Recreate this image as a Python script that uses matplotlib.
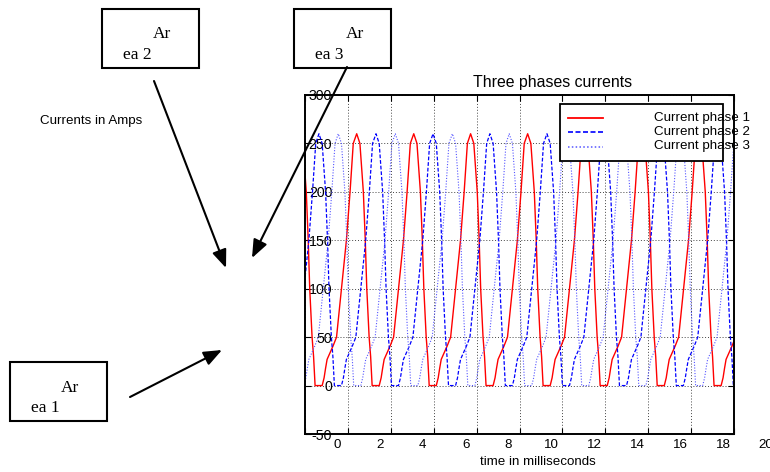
import matplotlib
matplotlib.use('Agg')
import matplotlib.pyplot as plt
import matplotlib.transforms as mtransforms
from matplotlib.patches import Rectangle, FancyArrowPatch

plt.rcParams['font.family'] = ['Liberation Sans', 'DejaVu Sans']
plt.rcParams['axes.unicode_minus'] = False

cycle_dt = [0.0, 0.15, 0.31, 0.40, 0.47, 0.58, 0.65, 0.72, 1.05, 1.14, 1.21,
            1.28, 1.42, 1.56, 1.72, 1.95, 2.18, 2.35, 2.50]
cycle_amp = [260, 250, 200, 150, 100, 50, 30, 0, 0, 8, 18,
             27, 34, 41, 50, 100, 150, 200, 250]

# times of the current peaks (ms) for each phase
peaks_phase1 = [-2.90, -0.25, 2.41, 5.07, 7.72, 10.38, 13.04, 15.70, 18.35]
peaks_phase2 = [-2.00, 0.65, 3.31, 5.97, 8.62, 11.28, 13.94, 16.59, 19.25]
peaks_phase3 = [-1.10, 1.55, 4.21, 6.87, 9.52, 12.18, 14.84, 17.49, 20.15]

labels = ['Current phase 1', 'Current phase 2', 'Current phase 3']
colors = ['#ff0000', '#0000ff', '#5555ff']
styles = ['-', (0, (3, 1.5)), (0, (1, 1.5))]
widths = [1.0, 0.9, 0.8]

x_ticks = [0, 2, 4, 6, 8, 10, 12, 14, 16, 18, 20]
y_ticks = [-50, 0, 50, 100, 150, 200, 250, 300]


def build(peaks):
    t, a = [], []
    for p in peaks:
        t += [p + d for d in cycle_dt]
        a += cycle_amp
    return t, a


fig = plt.figure(figsize=(7.7, 4.72), dpi=100)
ax = fig.add_axes([305/770, (472-434)/472, 429/770, 339/472])

for peaks, c, ls, lw in zip([peaks_phase1, peaks_phase2, peaks_phase3], colors, styles, widths):
    t, a = build(peaks)
    ax.plot(t, a, color=c, linestyle=ls, lw=lw)

ax.set_xlim(0, 20)
ax.set_ylim(-50, 300)
ax.set_xticks(x_ticks)
ax.set_yticks(y_ticks)
ax.set_xticklabels([str(v) for v in x_ticks])
ax.set_yticklabels([str(v) for v in y_ticks])
ax.grid(True, linestyle=(0, (1, 2)), color='#444444', lw=0.7)
ax.tick_params(direction='in', length=4, width=0.8, top=True, right=True)
ax.tick_params(axis='x', labelsize=9.6)
ax.tick_params(axis='y', labelsize=10.2)
for s in ax.spines.values():
    s.set_linewidth(1.4)

# labels sit shifted to the right, as in the original document
shift = mtransforms.ScaledTranslation(32/100, 0, fig.dpi_scale_trans)
for lab in ax.get_xticklabels() + ax.get_yticklabels():
    lab.set_transform(lab.get_transform() + shift)

title = ax.set_title('Three phases currents', fontsize=11.4, pad=5.5)
title.set_transform(title.get_transform() + mtransforms.ScaledTranslation(33/100, 0, fig.dpi_scale_trans))
ax.set_xlabel('time in milliseconds', fontsize=9.6)
ax.xaxis.set_label_coords(0.543, -0.066)

# overlay in image pixels for legend, boxes and arrows
ov = fig.add_axes([0, 0, 1, 1], zorder=10)
ov.set_xlim(0, 770)
ov.set_ylim(472, 0)
ov.axis('off')

ov.add_patch(Rectangle((560, 104), 163, 57, fc='white', ec='black', lw=1.3))
for i, (lab, c, ls, lw) in enumerate(zip(labels, colors, styles, widths)):
    y = 117.5 + i * 14.5
    ov.plot([568, 603], [y, y], color=c, linestyle=ls, lw=lw + 0.3)
    ov.text(654, y, lab, fontsize=9.6, va='center', ha='left')

ov.text(40, 121, 'Currents in Amps', fontsize=9.6, va='center', ha='left')

boxes = [((10, 362), (61, 392), (31, 412), '1'),
         ((102, 9), (153, 38), (123, 59), '2'),
         ((294, 9), (346, 38), (315, 59), '3')]
for (bx, by), (ax1, ay1), (ax2, ay2), n in boxes:
    ov.add_patch(Rectangle((bx, by), 97, 59, fc='white', ec='black', lw=1.5))
    ov.text(ax1, ay1, 'Ar', family='Liberation Serif', fontsize=12.5, va='baseline')
    ov.text(ax2, ay2, 'ea ' + n, family='Liberation Serif', fontsize=12.5, va='baseline')

arrows = [((130, 397), (222, 350)), ((154, 81), (226, 268)), ((347, 67), (252, 258))]
for start, end in arrows:
    ov.add_patch(FancyArrowPatch(start, end, arrowstyle='-|>,head_length=0.55,head_width=0.22',
                                 mutation_scale=20, lw=1.5, color='black',
                                 shrinkA=0, shrinkB=0))

fig.savefig('out.png', dpi=100)
